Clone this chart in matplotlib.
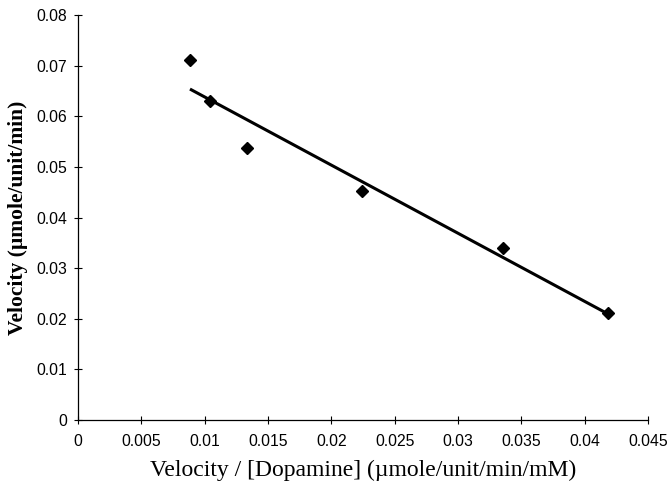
import numpy as np
import matplotlib
matplotlib.use("Agg")
import matplotlib.pyplot as plt

# Eadie-Hofstee style data
v_over_s = [0.00884, 0.01042, 0.01334, 0.02242, 0.03355, 0.04184]
velocity = [0.0711, 0.0630, 0.0537, 0.0452, 0.0340, 0.0211]
x_ticks = [0, 0.005, 0.01, 0.015, 0.02, 0.025, 0.03, 0.035, 0.04, 0.045]
y_ticks = [0, 0.01, 0.02, 0.03, 0.04, 0.05, 0.06, 0.07, 0.08]

fig = plt.figure(figsize=(6.69, 4.94), dpi=100)
ax = fig.add_axes([0.1166, 0.1498, 0.852, 0.8198])

# linear trend line
slope, intercept = np.polyfit(v_over_s, velocity, 1)
xs = np.array([min(v_over_s), max(v_over_s)])
ax.plot(xs, slope * xs + intercept, color="black", lw=2.2, solid_capstyle="butt")
ax.plot(v_over_s, velocity, "D", color="black", markersize=6.5)

ax.set_xlim(0, 0.045)
ax.set_ylim(0, 0.08)
ax.set_xticks(x_ticks)
ax.set_yticks(y_ticks)
ax.set_xticklabels([("%g" % t) for t in x_ticks], family="Liberation Sans", fontsize=11.3)
ax.set_yticklabels([("%g" % t) for t in y_ticks], family="Liberation Sans", fontsize=11.3)
ax.tick_params(direction="inout", length=6, width=0.8, pad=5)
ax.tick_params(axis="x", pad=7)

for s in ["top", "right"]:
    ax.spines[s].set_visible(False)
ax.spines["left"].set_linewidth(0.9)
ax.spines["bottom"].set_linewidth(0.9)

ax.set_xlabel("Velocity / [Dopamine] (\u00b5mole/unit/min/mM)", family="Liberation Serif",
              fontsize=17, labelpad=8)
ax.set_ylabel("Velocity (\u00b5mole/unit/min)", family="Liberation Serif",
              fontsize=15.5, fontweight="bold", labelpad=6)

fig.savefig("out.png", dpi=100)
